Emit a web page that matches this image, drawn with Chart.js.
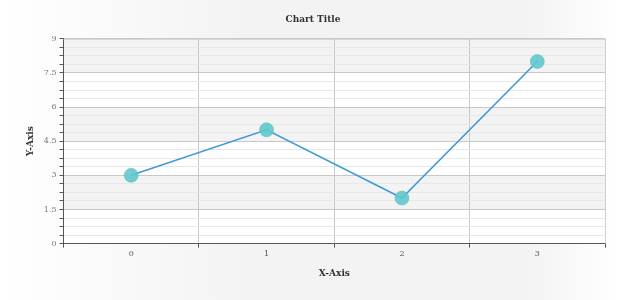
<!DOCTYPE html>
<html>
<head>
<meta charset="utf-8">
<script src="https://cdn.jsdelivr.net/npm/chart.js@4"></script>
<style>
  html, body { margin: 0; padding: 0; background: #fff; }
  #wrap { width: 620px; height: 300px; }
  canvas { background: linear-gradient(90deg, #ffffff 0%, #f3f3f3 40%, #f3f3f3 85%, #ffffff 100%); }
</style>
</head>
<body>
<div id="wrap"><canvas id="line1"></canvas></div>
<script>
var categories = ['0', '1', '2', '3'];
var seriesValues = [3, 5, 2, 8];
var yTickLabels = [0, 1.5, 3, 4.5, 6, 7.5, 9];

var serif = "'DejaVu Serif', serif";

// alternating bands + plot frame
var bandsPlugin = {
    id: 'bands',
    beforeDraw: function (chart) {
        var ctx = chart.ctx;
        var area = chart.chartArea;
        var y = chart.scales.y;
        ctx.save();
        ctx.fillStyle = '#ffffff';
        ctx.fillRect(area.left, area.top, area.right - area.left, area.bottom - area.top);
        ctx.fillStyle = '#f3f3f3';
        for (var i = 1; i < yTickLabels.length - 1; i += 2) {
            var top = y.getPixelForValue(yTickLabels[i + 1]);
            var bottom = y.getPixelForValue(yTickLabels[i]);
            ctx.fillRect(area.left, top, area.right - area.left, bottom - top);
        }
        ctx.restore();
    },
    afterDatasetsDraw: function (chart) {
        var ctx = chart.ctx;
        var area = chart.chartArea;
        ctx.save();
        ctx.strokeStyle = '#d0d0d0';
        ctx.lineWidth = 1;
        ctx.beginPath();
        ctx.moveTo(area.left, area.top + 0.5);
        ctx.lineTo(area.right + 0.5, area.top + 0.5);
        ctx.lineTo(area.right + 0.5, area.bottom);
        ctx.stroke();
        ctx.restore();
    }
};

var ctx = document.getElementById('line1');
var chart = new Chart(ctx, {
    type: 'line',
    data: {
        labels: categories,
        datasets: [{
            label: 'Series',
            data: seriesValues,
            borderColor: '#3d9ad9',
            borderWidth: 1.6,
            pointRadius: 7,
            pointHoverRadius: 7,
            pointBackgroundColor: 'rgba(96, 200, 204, 0.9)',
            pointBorderColor: 'rgba(80, 180, 185, 0.9)',
            pointBorderWidth: 0.5,
            tension: 0
        }]
    },
    options: {
        responsive: true,
        maintainAspectRatio: false,
        animation: false,
        layout: { padding: { top: 6, right: 15, left: 21, bottom: 17 } },
        plugins: {
            legend: { display: false },
            tooltip: { enabled: false },
            title: {
                display: true,
                text: 'Chart Title',
                color: '#333',
                font: { family: serif, size: 9, weight: 'bold' },
                padding: { top: 8, bottom: 14 }
            }
        },
        scales: {
            x: {
                offset: true,
                grid: {
                    offset: true,
                    color: '#c8c8c8',
                    tickColor: '#555',
                    tickLength: 4
                },
                border: { color: '#555', width: 1 },
                ticks: { color: '#555', font: { family: serif, size: 8 }, padding: 2 },
                title: {
                    display: true,
                    text: 'X-Axis',
                    color: '#333',
                    font: { family: serif, size: 9, weight: 'bold' },
                    padding: { top: 7 }
                }
            },
            y: {
                min: 0,
                max: 9,
                grid: {
                    color: function (c) {
                        return (c.tick && c.tick.value % 1.5 === 0) ? '#c8c8c8' : '#e8e8e8';
                    },
                    tickColor: '#555',
                    tickLength: 4
                },
                border: { color: '#555', width: 1 },
                ticks: {
                    stepSize: 0.375,
                    autoSkip: false,
                    color: '#777',
                    font: { family: serif, size: 8 },
                    padding: 3,
                    callback: function (v) {
                        return yTickLabels.indexOf(v) >= 0 ? String(v) : '';
                    }
                },
                title: {
                    display: true,
                    text: 'Y-Axis',
                    color: '#333',
                    font: { family: serif, size: 9, weight: 'bold' },
                    padding: { bottom: 5 }
                }
            }
        }
    },
    plugins: [bandsPlugin]
});
</script>
</body>
</html>
